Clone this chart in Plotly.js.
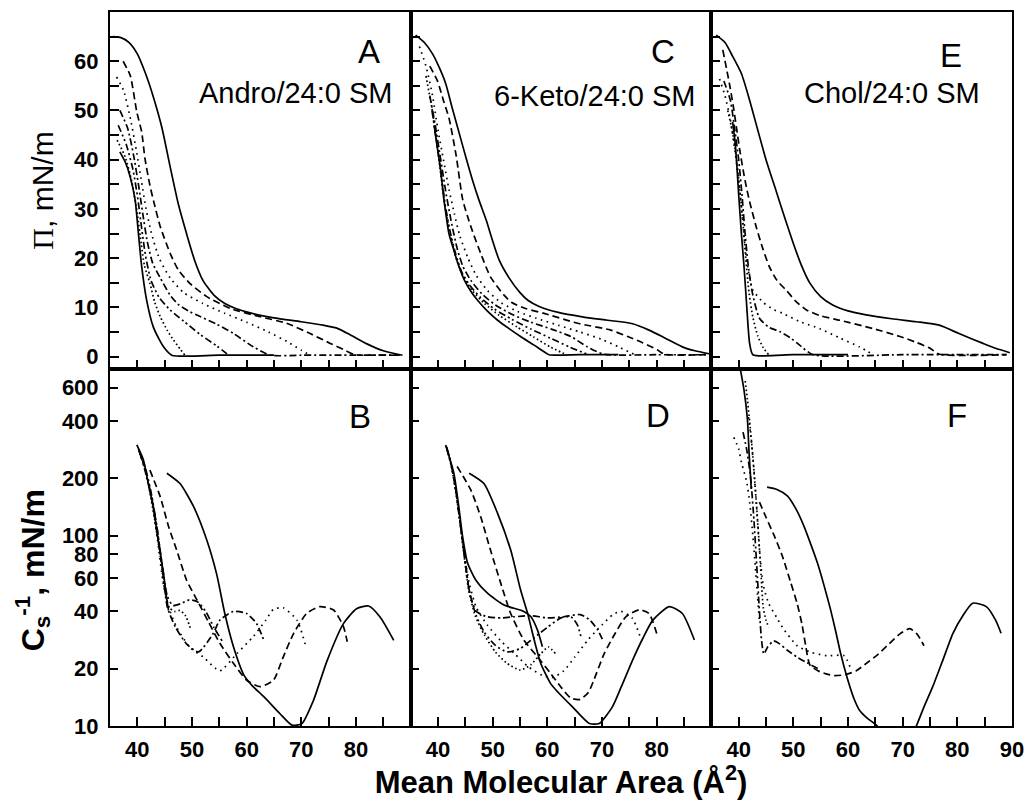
<!DOCTYPE html>
<html>
<head>
<meta charset="utf-8">
<script src="https://cdn.plot.ly/plotly-3.0.1.min.js"></script>
<style>html,body{margin:0;padding:0;background:#fff;}#chart{width:1026px;height:800px;}</style>
</head>
<body>
<div id="chart"></div>
<script>
// ---------- Panel A : Andro/24:0 SM, surface pressure (mN/m) ----------
const A_sm_x    = [35.5,37,38.5,40,41.5,43,44.5,46,47.5,49,50.5,52,54,56,58,61,65,70,74,76.5,79,82,85,88.5];
const A_sm_y    = [65,64.8,63.8,61.5,57.5,52.5,46.5,38.6,31,25,19.5,15.5,12.5,10.8,9.8,8.8,7.9,7.1,6.4,5.8,4.4,2.6,1.2,0.3];
const A_dash_x  = [37.4,38.7,39.9,40.8,41.4,42.3,43,44.2,46,47.5,49.6,52.7,57,62.5,67.3,71.6,75.3,78,79.8,84,88];
const A_dash_y  = [60,57.1,49.7,45.6,40.2,34.8,31.5,26.4,21,17.6,14.9,12.2,9.8,8.1,6.8,4.7,2.7,1.3,0.4,0.3,0.3];
const A_dot_x   = [36.2,37.5,38.8,39.8,40.7,41.6,42.6,44,46,48.5,52,56,60,64,67.5,70,71.6];
const A_dot_y   = [56.8,54,48,42,36,30,25,20,16,13,10.8,8.8,7,5,3,1.3,0.3];
const A_dd_x    = [36.8,38.2,39.3,40.2,41,41.8,42.8,44.2,46,47.5,49.5,51.2,54.5,57.6,61.2,64.3,70,80,88];
const A_dd_y    = [50,46.5,41,35,29,23.5,19,16,12.5,10.6,9.2,8.3,6.6,4.7,2,0.3,0.3,0.3,0.3];
const A_ddd_x   = [36.5,38,39.2,40.1,40.8,41.5,42.5,44,46,48.5,51.5,54.5,56.7];
const A_ddd_y   = [47,43,38,32,26,20.5,15.5,12,9.5,7.2,4.5,2.2,0.3];
const A_fdot_x  = [36.3,37.8,39,40,40.7,41.3,42.3,43.2,44.2,45.5,46.6,47.8,48.7];
const A_fdot_y  = [44,40.5,35.5,29,23,18.5,14.9,11,8.1,5.3,3.4,1.6,0.3];
const A_st_x    = [36.8,37.8,38.7,39.6,40.2,40.8,41.7,42.9,44,44.8,46.3,55,65];
const A_st_y    = [41.6,39.5,36.5,31.8,25,18.3,11.5,6.1,3.5,2,0.3,0.3,0.3];

// ---------- Panel C : 6-Keto/24:0 SM ----------
const C_sm_x    = [35.9,37.5,39,40.2,41.4,42.6,43.9,45.1,46.3,47.5,48.8,50,51.2,53,55,56.5,58.5,62,66.4,71,75.6,78.6,81.5,84.7,87,89.6];
const C_sm_y    = [65.3,63.8,61.5,58.8,55.5,50.5,45.3,40.5,35.9,31.8,27.8,23.5,19.6,16,13,11.4,10.2,9,8.1,7.4,6.7,5.4,3.8,2,1.2,0.6];
const C_dash_x  = [38.5,39.9,41,42,43.3,44.5,45.4,46.3,47.8,49.6,52,53.5,56,59.4,65.5,71.6,74.7,77.5,80.1,81.4,89];
const C_dash_y  = [59,56,52,48.5,41,32,28.5,25.5,21,16.2,12.6,11,9.8,8.8,6.8,5.4,4.1,2.8,1.4,0.5,0.4];
const C_dot_x   = [36.6,37.8,39,40,41,42,43,44,45.5,47,49,51.5,54.5,58,62,66,70,73,76];
const C_dot_y   = [63,59,53,46,40,34,29,24.5,20,16.5,13.5,11,9.2,7.8,6.4,5,3.5,2,0.4];
const C_dd_x    = [38.5,39.5,40.5,41.5,42.5,43.5,44.5,46,48,50.5,53.5,57,61,64.3,67.3,70.4,80,89];
const C_dd_y    = [53,47,40,33,27,22,18.5,15.5,12.8,10.5,8.6,7,5.5,4.1,2,0.5,0.4,0.4];
const C_ddd_x   = [38.9,39.7,40.5,41.3,42.2,43.2,44.3,45.8,47.8,50.3,53.5,57,60.5,64,67.5];
const C_ddd_y   = [50,44,38,31,25.5,21,17.3,14.5,12,9.7,7.6,5.6,3.8,2,0.4];
const C_fdot_x  = [37.8,38.8,39.6,40.4,41.2,42.2,43.3,44.6,46.3,48.5,51.2,54.5,57.5,60.5,63.5];
const C_fdot_y  = [57,51,45,38,31,25,20,16.3,13.4,10.8,8.4,6,4,2,0.4];
const C_st_x    = [39.3,39.8,40.4,41.1,42,42.9,43.8,44.8,46,47.2,49,50.9,53,55.1,57.5,59.4,60.3,66,73];
const C_st_y    = [47,43,38.6,31.8,25,21.6,18.4,15.6,13.3,11.5,9.3,7.4,5.7,4.1,2.4,1,0.4,0.4,0.4];

// ---------- Panel E : Chol/24:0 SM ----------
const E_sm_x    = [35.9,37.5,38.9,40.5,42,43.5,45,46.9,48.4,50,51.5,53,55,57.2,60,63.3,68,72.5,76.7,80.3,84.7,87,89.6];
const E_sm_y    = [65.3,63.8,61,57.5,52.1,46,40,33.5,28.3,23,18.5,15,12.2,10.5,9.3,8.5,7.7,7.1,6.4,4.7,2.7,1.7,0.8];
const E_dash_x  = [37.1,38.3,39,39.6,40.2,40.8,41.4,42,43.2,44.4,45.6,47,48.7,50.5,52.4,55,58.5,64.6,69.5,72.5,75,76.7,89];
const E_dash_y  = [62.3,55.5,51,46.5,42,38,34.5,31.5,26.4,22,18.3,15.5,13.5,11.2,9.5,8.3,7.4,5.7,4.1,2.9,1.7,0.5,0.4];
const E_dot_x   = [36.5,37.5,38.5,39.3,40,40.6,41.2,42,42.6,44.5,46.5,48.1,51,54.8,58.5,62.1,64.6];
const E_dot_y   = [56.4,53,48,42,36,29,22,16,13.5,11,9.5,8.8,7.2,5.7,3.8,2,0.4];
const E_dd_x    = [37.3,38.5,39.3,40,40.6,41.1,41.7,42.5,43.8,45.5,47.5,49.5,51.1,53.6,70,89];
const E_dd_y    = [56,52,46,40,33,26,19,13,7.8,6,5.1,3.8,2.4,0.4,0.4,0.4];
const E_fdot_x  = [38,38.8,39.5,40.2,40.8,41.3,41.9,42.6,43.5,44.5,45.5];
const E_fdot_y  = [50,46,41,34,27,20,13,8,4.2,1.8,0.4];
const E_st_x    = [38.9,39.3,39.6,40,40.5,41,41.4,41.7,42,42.6,50,60];
const E_st_y    = [47.7,44,39.9,33,25,18,11.5,6.5,2.7,0.4,0.4,0.4];

// ---------- Panel B : Andro/24:0 SM, compressibility modulus (mN/m) ----------
const B_sm_x    = [45.4,47.8,50.3,52.7,54.5,56,57.6,59.5,61,63.1,66.1,68.3,70.1,72.2,74.7,77.7,80.1,82.3,84.4,86.9];
const B_sm_y    = [213,188,142,95,63,39,26,18.5,16.3,14.3,11.6,10.1,10.3,13.6,22,34.5,41.3,42.7,37.4,28.2];
const B_dash_x  = [42.3,44.2,45.7,47.2,49,50.9,53,55.1,57.6,60,62.5,64.9,66.7,68.6,71,73.4,75.9,77.7,78.4];
const B_dash_y  = [221,160,112,84,58.5,46,35.3,27.2,21.3,17.4,16.1,17.4,23.1,30.7,39.1,42.4,40.7,33.3,27.7];
const B_dot_x   = [40.3,41.5,42.6,43.6,44.8,46,47.2,49.6,52.1,55.1,58.2,61.2,63.5,64.9,66.7,69.2,70.7];
const B_dot_y   = [280,220,160,100,55,40,33,25.9,23,19.5,24,29.5,36,41,41.8,36,27];
const B_dd_x    = [40.5,41.5,42.5,43.5,44.5,45.5,47,49,51.2,53.9,55.1,57.6,60,61.8,63.1];
const B_dd_y    = [270,215,165,115,70,42,33,27,24.5,30.7,36,40,39,34.6,28.4];
const B_ddd_x   = [40.3,41.5,42.5,43.5,44.5,45.5,46.5,48,49.5,51,52.5,54,55.5];
const B_ddd_y   = [280,225,170,115,72,48,43,44,46,45,40,33,28];
const B_fdot_x  = [40.2,41.3,42.2,43.2,44.2,45,45.8,46.8,47.8,48.8,49.8];
const B_fdot_y  = [285,230,175,120,78,52,42,40,40.5,38,32];
const B_st_x    = [39.9,41.1,42,42.9,43.8,44.8,45.4,45.7];
const B_st_y    = [300,251,188,142,95,63,46,40.7];

// ---------- Panel D : 6-Keto/24:0 SM ----------
const D_sm_x    = [45.7,48.4,50.9,53.3,55.1,56.4,57.6,58.8,60.6,62,64.6,67.7,69.5,71.9,73.5,75.6,77.5,79.3,82.3,84.7,86.9];
const D_sm_y    = [213,188,131,84,52,39,28.3,21.3,16.7,15,12.6,10.3,10.3,12.6,16,22.2,29,36,42.4,39,28.3];
const D_dash_x  = [43.5,46,47.8,49.6,51.5,53.3,55.7,58.2,60.6,62.5,64.3,66,67.5,68.5,70.4,72.5,74.4,76.8,78.6,80.2];
const D_dash_y  = [231,174,126,84,56,39,28.3,23.1,18.9,16,14,13.8,15,17.4,24,31,37.6,40.8,39,29.4];
const D_dot_x   = [41.6,42.5,43.3,44,44.8,45.8,47,49,51.5,54,56.5,59,61,63,65,67.5,70,72,73.5,75.5,77];
const D_dot_y   = [290,230,170,120,80,55,42,34,28,24,20.5,18.5,18,19.5,23,28.5,34,38.5,40,37,29.4];
const D_dd_x    = [41.6,42.5,43.3,44,44.8,45.8,47,49,51.5,54,57,60,63,66,67.8,69.2,70.2];
const D_dd_y    = [290,230,170,120,80,50,40,37.5,37,37.5,38,37,37.5,38.5,36,32,28];
const D_ddd_x   = [41.6,42.5,43.3,44,44.8,45.8,47,48.5,50.5,52.7,55,57.5,60,62.5,64.3,65.5,66.2];
const D_ddd_y   = [290,230,170,120,80,50,38,31,26.5,24.5,25.5,29,33,37,37.5,34,29];
const D_fdot_x  = [41.5,42.4,43.2,43.9,44.7,45.6,46.8,48.5,50.5,52.5,55,57,58.8,60.2,61.5];
const D_fdot_y  = [295,235,175,125,82,52,38,30,24.5,21.5,19.7,21,24,26,24];
const D_st_x    = [41.4,42.9,43.8,44.5,45.4,46.9,49,52.1,55.7,57,58.2,59.1];
const D_st_y    = [300,213,142,99,72,58.5,50,43.2,40,37.5,31.9,26.1];

// ---------- Panel F : Chol/24:0 SM ----------
const F_sm_x    = [45.2,47,48.9,50.5,51.9,53.2,54.4,55.6,56.8,57.8,58.6,59.9,61.1,62.1,63.5,65.2,67,69,71,72.5,74,75.5,77.3,79.2,81,82.8,85.3,87,88];
const F_sm_y    = [180,175,162,138,113,90,72,55,41,31,24.4,17.7,13.9,12.1,11,10.1,8.5,7.5,8,10,12.8,16.1,22,30.7,38,44.2,42.4,36,30.7];
const F_dash_x  = [43.8,45,46.5,48,49.5,50.7,51.6,52.3,53,54.5,56,57.5,59.5,61.5,63.5,65.5,67.5,69.5,71.3,72.6,73.9];
const F_dash_y  = [150,125,100,78,57,44,34,26,21,19.5,18.8,18.4,18.6,19.5,21.5,23.8,27,30.5,32.5,30.5,26.4];
const F_dot_x   = [41.8,42.3,42.8,43.3,43.8,44.5,45.5,47,48,50.7,53.2,56.2,59.3,60.5];
const F_dot_y   = [420,320,220,140,85,55,44,37,33,26.4,24.4,23.4,23.4,20];
const F_dd_x    = [40.8,41.5,42.2,42.8,43.3,43.8,44.2,44.6,45.3,46.4,47.5,48.9,50.7,52.5,54.5];
const F_dd_y    = [350,280,200,120,70,40,28,23.9,26,28,27,25,23,21.5,20];
const F_ddd_x   = [39.1,40,40.5,41,41.5,42,42.6,43.2,43.8];
const F_ddd_y   = [329,286,243,216,190,150,100,60,35];
const F_fdot_x  = [41.2,41.6,42,42.5,42.9,43.3,43.7,44.1,44.5,45,45.5];
const F_fdot_y  = [650,520,400,280,200,140,95,62,42,36,33];
const F_st_x    = [40.2,40.95,41.6,41.9,42.2,42.3];
const F_st_y    = [780,589,410,274,199,176];

// ---------- labels ----------
const panelLetters  = ['A','C','E','B','D','F'];
const panelSystems  = ['Andro/24:0 SM','6-Keto/24:0 SM','Chol/24:0 SM'];
const piTicks       = [0,10,20,30,40,50,60];
const csTicks       = [10,20,40,60,80,100,200,400,600];
const csTickText    = ['10','20','40','60','80','100','200','400','600'];
const areaTicks     = [40,50,60,70,80];
const areaTicksF    = [40,50,60,70,80,90];

// ---------- styles ----------
const DASH = {
  solid: 'solid',
  dash: '7px,4px',
  dot: '1.6px,4.5px',
  fdot: '1.6px,2.6px',
  dd: '7px,3px,2px,3px',
  ddd: '7px,3px,2px,3px,2px,3px'
};
function tr(x, y, ax, ay, style){
  return {x:x, y:y, xaxis:ax, yaxis:ay, type:'scatter', mode:'lines',
    line:{color:'#000', width:1.7, dash:DASH[style], shape:'spline', smoothing:0.6},
    hoverinfo:'skip', showlegend:false};
}
const data = [
  tr(A_sm_x,A_sm_y,'x','y','solid'), tr(A_dash_x,A_dash_y,'x','y','dash'), tr(A_dot_x,A_dot_y,'x','y','dot'),
  tr(A_dd_x,A_dd_y,'x','y','dd'), tr(A_ddd_x,A_ddd_y,'x','y','ddd'), tr(A_fdot_x,A_fdot_y,'x','y','fdot'),
  tr(A_st_x,A_st_y,'x','y','solid'),
  tr(C_sm_x,C_sm_y,'x2','y2','solid'), tr(C_dash_x,C_dash_y,'x2','y2','dash'), tr(C_dot_x,C_dot_y,'x2','y2','dot'),
  tr(C_dd_x,C_dd_y,'x2','y2','dd'), tr(C_ddd_x,C_ddd_y,'x2','y2','ddd'), tr(C_fdot_x,C_fdot_y,'x2','y2','fdot'),
  tr(C_st_x,C_st_y,'x2','y2','solid'),
  tr(E_sm_x,E_sm_y,'x3','y3','solid'), tr(E_dash_x,E_dash_y,'x3','y3','dash'), tr(E_dot_x,E_dot_y,'x3','y3','dot'),
  tr(E_dd_x,E_dd_y,'x3','y3','dd'), tr(E_fdot_x,E_fdot_y,'x3','y3','fdot'), tr(E_st_x,E_st_y,'x3','y3','solid'),
  tr(B_sm_x,B_sm_y,'x4','y4','solid'), tr(B_dash_x,B_dash_y,'x4','y4','dash'), tr(B_dot_x,B_dot_y,'x4','y4','dot'),
  tr(B_dd_x,B_dd_y,'x4','y4','dd'), tr(B_ddd_x,B_ddd_y,'x4','y4','ddd'), tr(B_fdot_x,B_fdot_y,'x4','y4','fdot'),
  tr(B_st_x,B_st_y,'x4','y4','solid'),
  tr(D_sm_x,D_sm_y,'x5','y5','solid'), tr(D_dash_x,D_dash_y,'x5','y5','dash'), tr(D_dot_x,D_dot_y,'x5','y5','dot'),
  tr(D_dd_x,D_dd_y,'x5','y5','dd'), tr(D_ddd_x,D_ddd_y,'x5','y5','ddd'), tr(D_fdot_x,D_fdot_y,'x5','y5','fdot'),
  tr(D_st_x,D_st_y,'x5','y5','solid'),
  tr(F_sm_x,F_sm_y,'x6','y6','solid'), tr(F_dash_x,F_dash_y,'x6','y6','dash'), tr(F_dot_x,F_dot_y,'x6','y6','dot'),
  tr(F_dd_x,F_dd_y,'x6','y6','dd'), tr(F_ddd_x,F_ddd_y,'x6','y6','dot'), tr(F_fdot_x,F_fdot_y,'x6','y6','fdot'),
  tr(F_st_x,F_st_y,'x6','y6','solid')
];

const FONT = 'Liberation Sans, Arial, sans-serif';
const tickFont = {family:FONT, size:22, color:'#000', weight:'bold'};
const minorLin = {tickmode:'linear', dtick:5, tick0:0, ticks:'inside', ticklen:9, tickwidth:2, tickcolor:'#000'};
function xAx(dom, anchor, vals){
  return {domain:dom, anchor:anchor, range:[35,90], showgrid:false, zeroline:false,
    showline:true, linecolor:'#000', linewidth:2, mirror:true,
    ticks:'inside', ticklen:9, tickwidth:2, tickcolor:'#000',
    tickmode:'array', tickvals:vals || areaTicks, minor:minorLin,
    showticklabels:!!vals, tickfont:tickFont, ticklabelstandoff:3, fixedrange:true};
}
function yPi(dom, anchor, labels){
  return {domain:dom, anchor:anchor, range:[-2.5,70], showgrid:false, zeroline:false,
    showline:true, linecolor:'#000', linewidth:2, mirror:true,
    ticks:'inside', ticklen:9, tickwidth:2, tickcolor:'#000',
    tickmode:'array', tickvals:piTicks, minor:minorLin, showticklabels:labels,
    tickfont:tickFont, ticklabelstandoff:5, fixedrange:true};
}
function yCs(dom, anchor, labels){
  return {domain:dom, anchor:anchor, type:'log', range:[1,2.876], showgrid:false, zeroline:false,
    showline:true, linecolor:'#000', linewidth:2, mirror:true,
    ticks:'inside', ticklen:8, tickwidth:2, tickcolor:'#000',
    tickmode:'array', tickvals:csTicks, ticktext:csTickText, showticklabels:labels,
    tickfont:tickFont, ticklabelstandoff:5, fixedrange:true};
}
const dom1=[0,1/3], dom2=[1/3,2/3], dom3=[2/3,1], rowTop=[0.5,1], rowBot=[0,0.5];
const layout = {
  width:1026, height:800,
  margin:{l:110, r:14, t:12, b:74},
  paper_bgcolor:'#fff', plot_bgcolor:'#fff',
  showlegend:false,
  font:{family:FONT, color:'#000'},
  xaxis:xAx(dom1,'y'), xaxis2:xAx(dom2,'y2'), xaxis3:xAx(dom3,'y3'),
  xaxis4:xAx(dom1,'y4',areaTicks), xaxis5:xAx(dom2,'y5',areaTicks), xaxis6:xAx(dom3,'y6',areaTicksF),
  yaxis:yPi(rowTop,'x',true), yaxis2:yPi(rowTop,'x2',false), yaxis3:yPi(rowTop,'x3',false),
  yaxis4:yCs(rowBot,'x4',true), yaxis5:yCs(rowBot,'x5',false), yaxis6:yCs(rowBot,'x6',false),
  annotations:[]
};
layout.xaxis5.title = {text:'Mean Molecular Area (Å<sup>2</sup>)', font:{family:FONT, size:31, weight:'bold', color:'#000'}, standoff:9};
layout.yaxis.title = {text:'<span style="font-family:Liberation Serif">Π</span>, mN/m', font:{family:FONT, size:30, color:'#000'}, standoff:12};

const ann = layout.annotations;
ann.push({xref:'paper', yref:'paper', x:-0.085, y:0.2185, xanchor:'center', yanchor:'middle', textangle:-90,
  showarrow:false, text:'C<sub>s</sub><sup>-1</sup>, mN/m', font:{family:FONT, size:32, weight:'bold', color:'#000'}});
const letterPos = [[0.2871,0.944],[0.6136,0.944],[0.9329,0.9384],[0.2772,0.4328],[0.607,0.4342],[0.939,0.4342]];
panelLetters.forEach((t,i)=>ann.push({xref:'paper', yref:'paper', x:letterPos[i][0], y:letterPos[i][1],
  xanchor:'center', yanchor:'middle', showarrow:false, text:t, font:{family:FONT, size:33, color:'#000'}}));
const sysPos = [[0.2057,0.8866],[0.5377,0.882],[0.867,0.8866]];
panelSystems.forEach((t,i)=>ann.push({xref:'paper', yref:'paper', x:sysPos[i][0], y:sysPos[i][1],
  xanchor:'center', yanchor:'middle', showarrow:false, text:t, font:{family:FONT, size:29, color:'#000'}}));

Plotly.newPlot('chart', data, layout, {staticPlot:true, displayModeBar:false});
</script>
</body>
</html>
